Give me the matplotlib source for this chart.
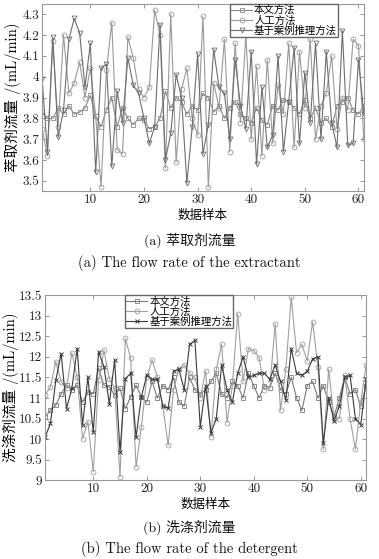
import numpy as np
import matplotlib
matplotlib.use("Agg")
import matplotlib.pyplot as plt
from matplotlib.ticker import FixedLocator, FuncFormatter

plt.rcParams['font.family'] = ['cmr10', 'Noto Sans CJK SC', 'DejaVu Sans']
plt.rcParams['axes.unicode_minus'] = False
plt.rcParams['axes.formatter.use_mathtext'] = False

samples = np.arange(1, 62)
labels = ['本文方法', '人工方法', '基于案例推理方法']

# (a) extractant flow rate, mL/min
ext_ours = [3.83, 3.80, 3.80, 3.85, 3.82, 3.86, 3.82, 3.83, 3.85, 3.91, 3.81, 3.76, 3.84, 3.90, 3.76,
            3.85, 3.80, 3.77, 3.80, 3.79, 3.75, 3.76, 3.80, 3.93, 3.85, 3.90, 3.88, 3.82, 3.86, 3.84,
            3.92, 3.90, 3.83, 3.86, 3.80, 3.85, 3.88, 3.82, 3.80, 3.78, 3.85, 3.79, 3.77, 3.86, 3.84,
            3.89, 3.88, 3.85, 3.82, 3.89, 3.80, 3.85, 3.78, 3.80, 3.76, 3.86, 3.88, 3.90, 3.84, 3.82,
            3.86]
ext_manual = [3.75, 3.62, 4.17, 3.76, 4.20, 3.92, 3.97, 4.07, 3.90, 4.04, 3.81, 3.47, 4.03, 4.26, 3.65,
              3.63, 4.19, 4.09, 3.94, 3.90, 3.95, 4.32, 4.20, 3.56, 4.30, 3.59, 3.94, 4.04, 3.80, 3.72,
              4.29, 3.47, 3.97, 3.85, 4.18, 3.64, 4.16, 3.78, 4.20, 3.70, 4.05, 3.62, 4.08, 3.68, 3.96,
              3.82, 4.16, 3.66, 4.12, 3.85, 4.18, 3.70, 3.86, 3.92, 4.10, 3.75, 3.90, 3.84, 4.18, 4.15,
              3.70]
ext_cbr = [3.99, 3.64, 4.19, 3.71, 3.84, 4.18, 4.28, 4.21, 3.95, 4.16, 3.54, 4.04, 4.06, 3.57, 3.93,
           3.78, 4.09, 3.96, 3.92, 3.80, 3.68, 3.76, 4.25, 3.60, 3.73, 4.01, 3.90, 3.49, 3.76, 4.11,
           3.63, 3.77, 4.13, 3.95, 3.92, 3.70, 4.08, 3.86, 3.75, 4.12, 3.58, 3.95, 3.66, 3.72, 4.10,
           3.64, 3.88, 4.14, 3.68, 4.02, 3.78, 4.16, 3.70, 4.12, 3.78, 3.66, 4.22, 3.67, 3.68, 4.08,
           3.82]

# (b) detergent flow rate, mL/min
det_ours = [10.54, 10.70, 10.82, 11.10, 11.31, 11.19, 11.31, 10.90, 11.15, 11.10, 11.72, 11.31, 11.27,
            11.07, 11.23, 10.74, 11.03, 11.31, 11.03, 10.90, 11.40, 11.00, 11.30, 11.20, 11.50, 10.90,
            10.80, 11.50, 11.20, 11.10, 11.20, 11.40, 11.60, 11.10, 11.00, 11.40, 11.30, 11.00, 11.60,
            11.30, 11.00, 11.30, 11.25, 11.60, 11.20, 11.10, 11.50, 11.00, 10.70, 11.30, 11.40, 11.00,
            11.30, 10.90, 10.55, 11.00, 11.50, 11.10, 11.20, 10.80, 11.30]
det_manual = [11.07, 11.27, 11.88, 11.39, 11.23, 12.10, 11.50, 10.01, 10.42, 9.20, 11.43, 12.16, 11.47,
              11.23, 9.08, 12.45, 11.96, 9.32, 10.30, 11.50, 11.92, 11.50, 10.80, 9.85, 11.20, 11.70,
              11.80, 11.60, 11.50, 11.00, 11.65, 10.05, 11.70, 12.30, 10.40, 11.30, 13.05, 11.40, 12.20,
              12.15, 11.98, 11.20, 11.25, 12.80, 10.70, 11.70, 13.45, 12.10, 12.30, 11.90, 12.85, 11.75,
              9.75, 11.70, 10.50, 10.50, 11.55, 10.50, 9.75, 10.90, 11.80]
det_cbr = [10.05, 10.38, 11.43, 12.08, 10.74, 11.23, 12.20, 10.34, 11.50, 10.17, 12.12, 11.76, 10.86,
           11.92, 9.69, 11.47, 11.60, 10.05, 11.03, 11.55, 11.45, 11.45, 10.80, 10.75, 11.65, 11.70,
           11.20, 12.30, 12.40, 10.30, 11.30, 10.15, 10.50, 11.80, 11.20, 10.90, 11.60, 12.00, 11.50,
           11.55, 11.60, 11.60, 11.45, 11.80, 11.40, 10.95, 12.20, 11.60, 11.55, 11.65, 11.95, 12.00,
           9.90, 11.00, 10.45, 10.80, 11.50, 11.55, 10.50, 10.35, 11.45]

xticks = [10, 20, 30, 40, 50, 60]
yticks_a = [3.5, 3.6, 3.7, 3.8, 3.9, 4.0, 4.1, 4.2, 4.3]
yticks_b = [9, 9.5, 10, 10.5, 11, 11.5, 12, 12.5, 13, 13.5]


def fmt(v, pos):
    return ('%.1f' % v).rstrip('0').rstrip('.')


def style_axes(ax):
    for s in ax.spines.values():
        s.set_color('#999999')
        s.set_linewidth(0.8)
    ax.tick_params(direction='in', top=True, right=True, length=3, width=0.6,
                   color='#888888', labelsize=9.5, pad=2, labelcolor='#222222')
    ax.xaxis.set_major_locator(FixedLocator(xticks))
    ax.yaxis.set_major_formatter(FuncFormatter(fmt))


def add_legend(ax, anchor, loc):
    ax.legend(loc=loc, bbox_to_anchor=anchor, fontsize=7.5, frameon=True, fancybox=False,
              edgecolor='#666666', framealpha=1, borderpad=0.1, labelspacing=0.0, handlelength=2.0,
              handletextpad=0.2, borderaxespad=0)


fig = plt.figure(figsize=(3.79, 5.59), dpi=100)

# ---- (a)
ax1 = fig.add_axes([0.111, 0.658, 0.849, 0.335])
ax1.plot(samples, ext_ours, color='#8a8a8a', lw=0.8, marker='s', ms=3, mfc='none', mew=0.6, label=labels[0])
ax1.plot(samples, ext_manual, color='#9a9a9a', lw=0.8, marker='o', ms=3.5, mfc='none', mew=0.6, label=labels[1])
ax1.plot(samples, ext_cbr, color='#6e6e6e', lw=0.8, marker='v', ms=3.5, mfc='none', mew=0.6, label=labels[2])
ax1.set_xlim(1, 61)
ax1.set_ylim(3.45, 4.35)
ax1.yaxis.set_major_locator(FixedLocator(yticks_a))
style_axes(ax1)
ax1.set_ylabel('萃取剂流量 /(mL/min)', fontsize=10.5)
ax1.yaxis.set_label_coords(-0.065, 0.5)
ax1.set_xlabel('数据样本', fontsize=9, labelpad=3)
add_legend(ax1, (0.92, 1.0), 'upper right')

fig.text(0.5, 0.571, '(a) 萃取剂流量', ha='center', va='center', fontsize=10, color='#111111')
fig.text(0.5, 0.530, '(a) The flow rate of the extractant', ha='center', va='center', fontsize=10.5, color='#111111')

# ---- (b)
ax2 = fig.add_axes([0.119, 0.141, 0.847, 0.331])
ax2.plot(samples, det_ours, color='#7a7a7a', lw=0.8, marker='s', ms=2.5, mfc='none', mew=0.6, label=labels[0])
ax2.plot(samples, det_manual, color='#a0a0a0', lw=0.8, marker='o', ms=3.5, mfc='none', mew=0.6, label=labels[1])
ax2.plot(samples, det_cbr, color='#3a3a3a', lw=0.8, marker='x', ms=2.5, mew=0.7, label=labels[2])
ax2.set_xlim(1, 61)
ax2.set_ylim(9, 13.5)
ax2.yaxis.set_major_locator(FixedLocator(yticks_b))
style_axes(ax2)
ax2.set_ylabel('洗涤剂流量 /(mL/min)', fontsize=10.5)
ax2.yaxis.set_label_coords(-0.082, 0.5)
ax2.set_xlabel('数据样本', fontsize=9, labelpad=3)
add_legend(ax2, (0.25, 1.0), 'upper left')

fig.text(0.5, 0.057, '(b) 洗涤剂流量', ha='center', va='center', fontsize=10, color='#111111')
fig.text(0.5, 0.018, '(b) The flow rate of the detergent', ha='center', va='center', fontsize=10.5, color='#111111')

fig.savefig('out.png', dpi=100)
